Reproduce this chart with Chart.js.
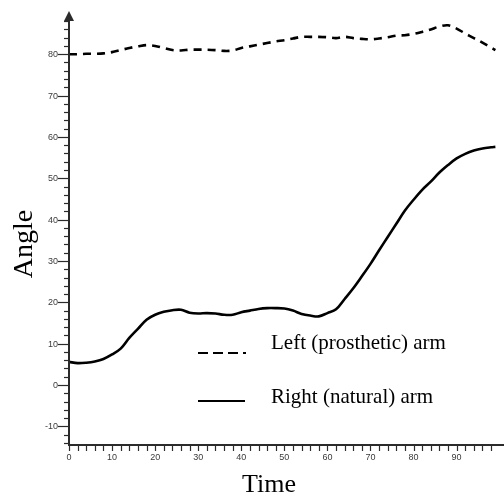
<!DOCTYPE html>
<html>
<head>
<meta charset="utf-8">
<script src="https://cdn.jsdelivr.net/npm/chart.js@4/dist/chart.umd.min.js"></script>
<style>
  html, body { margin: 0; padding: 0; background: #fff; }
  canvas { display: block; }
</style>
</head>
<body>
<canvas id="angleChart" width="504" height="495"></canvas>
<script>
(function() {
    'use strict';

    // time samples (x) and joint angle per arm
    const time = [0, 2, 4, 6, 8, 10, 12, 14, 16, 18, 20, 22, 24, 26, 28, 30, 32, 34, 36, 38,
        40, 42, 44, 46, 48, 50, 52, 54, 56, 58, 60, 62, 64, 66, 68, 70, 72, 74, 76, 78,
        80, 82, 84, 86, 88, 90, 92, 94, 96, 98, 99];
    const leftArm = [80.0, 80.0, 80.1, 80.1, 80.2, 80.5, 81.0, 81.5, 81.9, 82.2, 82.0, 81.5, 81.0, 80.9, 81.1, 81.1, 81.1, 81.0, 80.8, 80.9,
        81.5, 81.9, 82.3, 82.7, 83.1, 83.4, 83.8, 84.2, 84.2, 84.2, 84.1, 83.9, 84.2, 83.9, 83.7, 83.6, 83.8, 84.1, 84.5, 84.6,
        84.9, 85.4, 86.0, 86.7, 87.0, 86.2, 85.0, 83.9, 82.8, 81.6, 81.0];
    const rightArm = [5.6, 5.3, 5.4, 5.7, 6.3, 7.4, 8.8, 11.4, 13.6, 15.8, 17.0, 17.7, 18.1, 18.2, 17.5, 17.3, 17.4, 17.3, 17.0, 17.0,
        17.6, 18.0, 18.4, 18.6, 18.6, 18.5, 18.0, 17.2, 16.8, 16.6, 17.4, 18.3, 20.8, 23.4, 26.3, 29.3, 32.6, 35.8, 39.0, 42.2,
        44.8, 47.2, 49.2, 51.4, 53.2, 54.8, 55.9, 56.7, 57.2, 57.5, 57.6];

    const seriesNames = ['Left (prosthetic) arm', 'Right (natural) arm'];
    const xTickLabels = [0, 10, 20, 30, 40, 50, 60, 70, 80, 90];
    const yTickLabels = [-10, 0, 10, 20, 30, 40, 50, 60, 70, 80];
    const xMinorTicks = [2, 4, 6, 8, 12, 14, 16, 18, 22, 24, 26, 28, 32, 34, 36, 38, 42, 44, 46, 48,
        52, 54, 56, 58, 62, 64, 66, 68, 72, 74, 76, 78, 82, 84, 86, 88, 92, 94, 96, 98];
    const yMinorTicks = [-14, -12, -8, -6, -4, -2, 2, 4, 6, 8, 12, 14, 16, 18, 22, 24, 26, 28, 32, 34, 36, 38,
        42, 44, 46, 48, 52, 54, 56, 58, 62, 64, 66, 68, 72, 74, 76, 78, 82, 84, 86, 88];

    const AXIS_COLOR = '#2b2b2b';
    const LABEL_COLOR = '#3a3a3a';

    function toPoints(xs, ys) {
        return xs.map((x, i) => ({ x: x, y: ys[i] }));
    }

    // draws the axes, ticks, titles and legend in the old plotting style
    const axesPlugin = {
        id: 'oldAxes',
        afterDraw(chart) {
            const ctx = chart.ctx;
            const xs = chart.scales.x;
            const ys = chart.scales.y;
            const area = chart.chartArea;
            const x0 = xs.getPixelForValue(0);
            const yBottom = area.bottom;

            ctx.save();
            ctx.strokeStyle = AXIS_COLOR;
            ctx.fillStyle = AXIS_COLOR;

            // y axis line + arrow
            ctx.lineWidth = 2;
            ctx.beginPath();
            ctx.moveTo(x0, yBottom);
            ctx.lineTo(x0, 20);
            ctx.stroke();
            ctx.beginPath();
            ctx.moveTo(x0, 11);
            ctx.lineTo(x0 - 5, 21);
            ctx.lineTo(x0 + 5, 21);
            ctx.closePath();
            ctx.fill();

            // x axis line
            ctx.beginPath();
            ctx.moveTo(x0 - 1, yBottom);
            ctx.lineTo(chart.width, yBottom);
            ctx.stroke();

            // y ticks
            ctx.lineWidth = 1.2;
            yMinorTicks.forEach(v => {
                const py = Math.round(ys.getPixelForValue(v)) + 0.5;
                ctx.beginPath();
                ctx.moveTo(x0 - 5, py);
                ctx.lineTo(x0, py);
                ctx.stroke();
            });
            ctx.font = '9px "Liberation Sans", Arial, sans-serif';
            ctx.textAlign = 'right';
            ctx.textBaseline = 'middle';
            yTickLabels.forEach(v => {
                const py = Math.round(ys.getPixelForValue(v)) + 0.5;
                ctx.beginPath();
                ctx.moveTo(x0 - 11, py);
                ctx.lineTo(x0, py);
                ctx.stroke();
                ctx.fillStyle = LABEL_COLOR;
                ctx.fillText(String(v), x0 - 11, py);
            });

            // x ticks
            xTickLabels.concat(xMinorTicks).forEach(v => {
                const px = Math.round(xs.getPixelForValue(v)) + 0.5;
                ctx.beginPath();
                ctx.moveTo(px, yBottom);
                ctx.lineTo(px, yBottom + 6);
                ctx.stroke();
            });
            ctx.textAlign = 'center';
            ctx.textBaseline = 'top';
            xTickLabels.forEach(v => {
                ctx.fillText(String(v), xs.getPixelForValue(v), yBottom + 8);
            });

            // axis titles
            ctx.fillStyle = '#000';
            ctx.font = '26px "Liberation Serif", "Times New Roman", serif';
            ctx.textAlign = 'center';
            ctx.textBaseline = 'alphabetic';
            ctx.fillText('Time', 269, 492);
            ctx.save();
            ctx.translate(32, 244);
            ctx.rotate(-Math.PI / 2);
            ctx.font = '28px "Liberation Serif", "Times New Roman", serif';
            ctx.fillText('Angle', 0, 0);
            ctx.restore();

            // legend
            ctx.strokeStyle = '#000';
            ctx.lineWidth = 1.8;
            ctx.setLineDash([10, 5]);
            ctx.beginPath();
            ctx.moveTo(198, 353);
            ctx.lineTo(246, 353);
            ctx.stroke();
            ctx.setLineDash([]);
            ctx.beginPath();
            ctx.moveTo(198, 401);
            ctx.lineTo(245, 401);
            ctx.stroke();
            ctx.font = '21px "Liberation Serif", "Times New Roman", serif';
            ctx.textAlign = 'left';
            ctx.fillText(seriesNames[0], 271, 349);
            ctx.fillText(seriesNames[1], 271, 403);

            ctx.restore();
        }
    };

    function renderChart(canvasId) {
        const el = document.getElementById(canvasId);
        if (!el || typeof Chart === 'undefined') return;
        new Chart(el, {
            type: 'line',
            data: {
                datasets: [{
                    label: seriesNames[0],
                    data: toPoints(time, leftArm),
                    borderColor: '#000',
                    borderWidth: 2.6,
                    borderDash: [8, 6],
                    pointRadius: 0,
                    tension: 0.35,
                    fill: false
                }, {
                    label: seriesNames[1],
                    data: toPoints(time, rightArm),
                    borderColor: '#000',
                    borderWidth: 2.6,
                    pointRadius: 0,
                    tension: 0.35,
                    fill: false
                }]
            },
            options: {
                responsive: false,
                animation: false,
                layout: { padding: { left: 69, top: 17, right: 0, bottom: 50 } },
                plugins: {
                    legend: { display: false },
                    tooltip: { enabled: false }
                },
                scales: {
                    x: { type: 'linear', min: 0, max: 101, display: false },
                    y: { type: 'linear', min: -14.5, max: 89, display: false }
                }
            },
            plugins: [axesPlugin]
        });
    }

    renderChart('angleChart');
})();
</script>
</body>
</html>
